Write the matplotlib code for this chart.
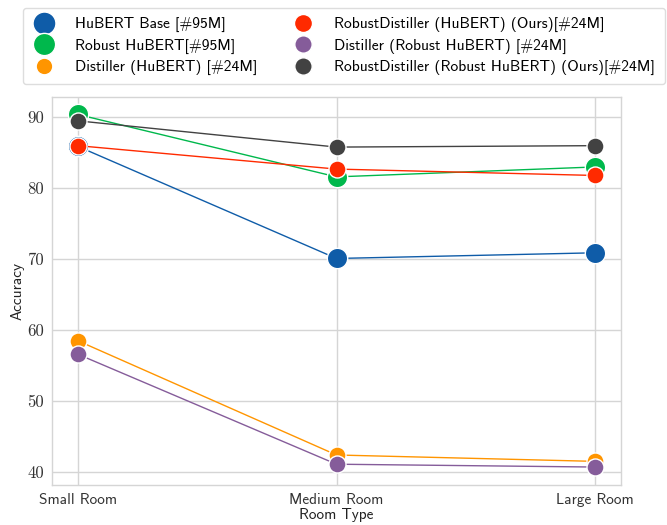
import matplotlib
matplotlib.use("Agg")
import matplotlib.pyplot as plt
from matplotlib.lines import Line2D

categories = ["Small Room", "Medium Room", "Large Room"]
series_names = [
    "HuBERT Base [#95M]",
    "Robust HuBERT[#95M]",
    "Distiller (HuBERT) [#24M]",
    "RobustDistiller (HuBERT) (Ours)[#24M]",
    "Distiller (Robust HuBERT) [#24M]",
    "RobustDistiller (Robust HuBERT) (Ours)[#24M]",
]
hubert_base = [85.9, 70.1, 70.9]
robust_hubert = [90.4, 81.6, 83.0]
distiller_hubert = [58.5, 42.4, 41.5]
robustdistiller_hubert = [86.0, 82.7, 81.8]
distiller_robust = [56.6, 41.1, 40.7]
robustdistiller_robust = [89.5, 85.8, 86.0]
values = [hubert_base, robust_hubert, distiller_hubert,
          robustdistiller_hubert, distiller_robust, robustdistiller_robust]
y_ticks = [40, 50, 60, 70, 80, 90]

colors = ["#0F5CA8", "#00B84C", "#FF9500", "#FF2A00", "#855C9A", "#424242"]
msizes = [215, 215, 150, 150, 150, 150]
leg_ms = [16.5, 16, 12, 13, 12.5, 12.5]

plt.rcParams['axes.unicode_minus'] = False
fig = plt.figure(figsize=(6.67, 5.25), dpi=100)
ax = fig.add_axes([52/667, 1-484.5/525, 569/667, 387.5/525])
ax.set_facecolor("white")
x = list(range(len(categories)))
order = [2, 4, 1, 5, 0, 3]
for z, i in enumerate(order):
    ax.plot(x, values[i], color=colors[i], lw=1.0, zorder=3 + 2*z)
    ax.scatter(x, values[i], s=msizes[i], color=colors[i], edgecolor="white",
               linewidth=1.0, zorder=4 + 2*z)

ax.set_xlim(-0.1, 2.1)
ax.set_ylim(38.24, 92.86)
ax.set_xticks(x)
ax.set_xticklabels(categories, fontfamily="cmss10", fontsize=11)
ax.set_yticks(y_ticks)
ax.set_yticklabels([str(v) for v in y_ticks], fontfamily="cmr10", fontsize=12)
ax.grid(True, color="#d5d5d5", lw=1.0, zorder=0)
ax.set_axisbelow(True)
for s in ax.spines.values():
    s.set_color("#d5d5d5")
    s.set_linewidth(1.0)
ax.tick_params(length=0, pad=6, colors="#333333")
ax.set_xlabel("Room Type", fontfamily="cmss10", fontsize=11, labelpad=1, color="#222222")
ax.set_ylabel("Accuracy", fontfamily="cmss10", fontsize=11, labelpad=2, color="#222222")

handles = [Line2D([], [], ls="none", marker="o", markersize=leg_ms[i],
                  markerfacecolor=colors[i], markeredgecolor="white", markeredgewidth=1.0)
           for i in range(6)]
leg = fig.legend(handles, series_names, ncol=2, loc="upper left",
                 bbox_to_anchor=(23/667, 1-8/525), borderaxespad=0,
                 prop={"family": "cmss10", "size": 11.2},
                 frameon=True, borderpad=0.6, labelspacing=0.4, handletextpad=1.25,
                 columnspacing=2.2, handlelength=1.5, fancybox=True)
leg.get_frame().set_edgecolor("#d5d5d5")
fig.savefig("out.png", dpi=100)
